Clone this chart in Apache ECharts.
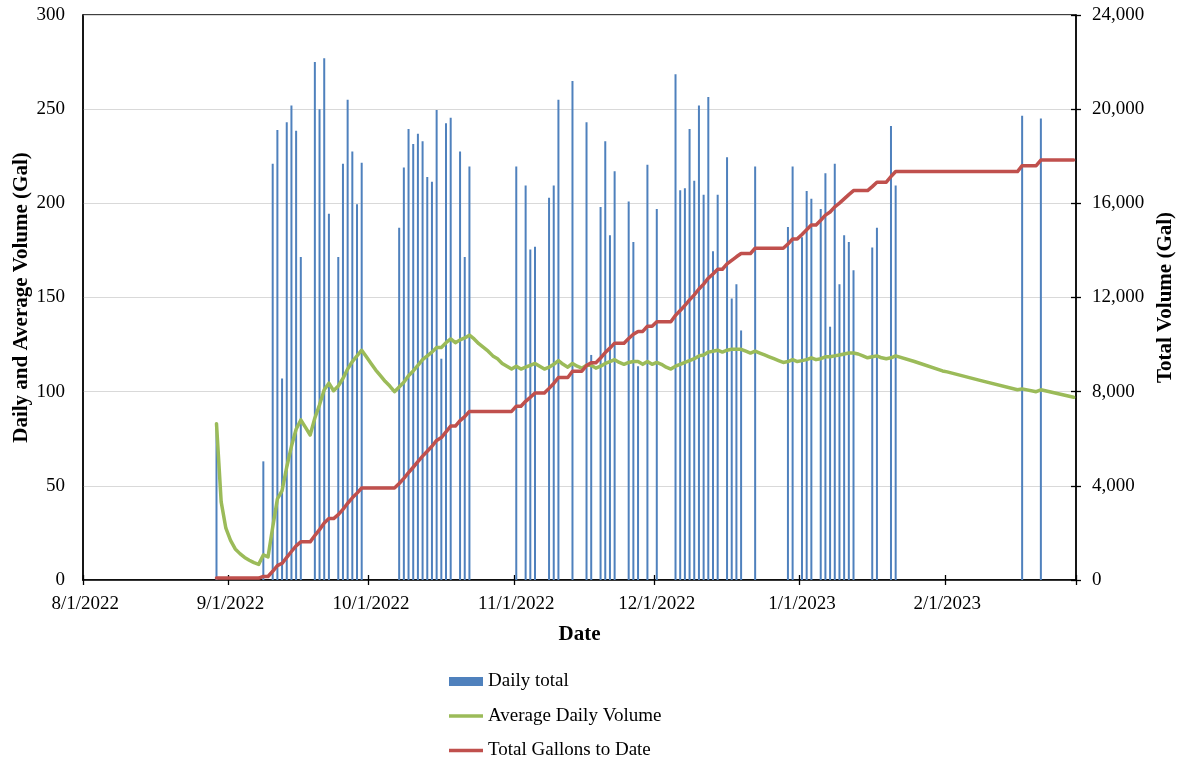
<!DOCTYPE html>
<html><head><meta charset="utf-8">
<script src="https://cdn.jsdelivr.net/npm/echarts@6/dist/echarts.min.js"></script>
<style>html,body{margin:0;padding:0;background:#fff}#c{width:1177px;height:757px}</style>
</head><body><div id="c"></div>
<script>
// Daily total bars
const barDates = ['8/29/2022','9/8/2022','9/10/2022','9/11/2022','9/12/2022','9/13/2022','9/14/2022','9/15/2022','9/16/2022','9/19/2022','9/20/2022','9/21/2022','9/22/2022','9/24/2022','9/25/2022','9/26/2022','9/27/2022','9/28/2022','9/29/2022',
'10/7/2022','10/8/2022','10/9/2022','10/10/2022','10/11/2022','10/12/2022','10/13/2022','10/14/2022','10/15/2022','10/16/2022','10/17/2022','10/18/2022','10/20/2022','10/21/2022','10/22/2022',
'11/1/2022','11/3/2022','11/4/2022','11/5/2022','11/8/2022','11/9/2022','11/10/2022','11/13/2022','11/16/2022','11/17/2022','11/19/2022','11/20/2022','11/21/2022','11/22/2022','11/25/2022','11/26/2022','11/27/2022','11/29/2022',
'12/1/2022','12/5/2022','12/6/2022','12/7/2022','12/8/2022','12/9/2022','12/10/2022','12/11/2022','12/12/2022','12/13/2022','12/14/2022','12/16/2022','12/17/2022','12/18/2022','12/19/2022','12/22/2022','12/29/2022','12/30/2022',
'1/1/2023','1/2/2023','1/3/2023','1/5/2023','1/6/2023','1/7/2023','1/8/2023','1/9/2023','1/10/2023','1/11/2023','1/12/2023','1/16/2023','1/17/2023','1/20/2023','1/21/2023','2/17/2023','2/21/2023'];
const barValues = [83,63,221,239,107,243,252,238.5,171.5,275,250,277,194.5,171.5,221,255,227.5,199.5,221.5,
187,219,239.5,231.5,237,233,214,211.5,249.5,117.5,242.5,245.5,227.5,171.5,219.5,
219.5,209.5,175.5,177,203,209.5,255,265,243,119.5,198,233,183,217,201,179.5,113.5,220.5,
197,268.5,207,208,239.5,212,252,204.5,256.5,174.5,204.5,224.5,149.5,157,132.5,219.5,187.5,219.5,
182,206.5,202.5,197,216,134.5,221,157,183,179.5,164.5,176.5,187,241,209.5,246.5,245];

// Average daily volume (line vertices)
const avgDates = ['8/29/2022','8/30/2022','8/31/2022','9/1/2022','9/2/2022','9/3/2022','9/4/2022','9/5/2022','9/6/2022','9/7/2022','9/8/2022','9/9/2022','9/10/2022','9/11/2022','9/12/2022','9/13/2022','9/14/2022','9/15/2022','9/16/2022','9/17/2022','9/18/2022','9/19/2022','9/20/2022','9/21/2022','9/22/2022','9/23/2022','9/24/2022','9/25/2022','9/26/2022','9/27/2022','9/28/2022','9/29/2022','9/30/2022',
'10/1/2022','10/2/2022','10/3/2022','10/4/2022','10/5/2022','10/6/2022','10/7/2022','10/8/2022','10/9/2022','10/10/2022','10/11/2022','10/12/2022','10/13/2022','10/14/2022','10/15/2022','10/16/2022','10/17/2022','10/18/2022','10/19/2022','10/20/2022','10/21/2022','10/22/2022','10/23/2022','10/24/2022','10/25/2022','10/26/2022','10/27/2022','10/28/2022','10/29/2022','10/30/2022','10/31/2022',
'11/1/2022','11/2/2022','11/3/2022','11/4/2022','11/5/2022','11/6/2022','11/7/2022','11/8/2022','11/9/2022','11/10/2022','11/11/2022','11/12/2022','11/13/2022','11/14/2022','11/15/2022','11/16/2022','11/17/2022','11/18/2022','11/19/2022','11/20/2022','11/21/2022','11/22/2022','11/23/2022','11/24/2022','11/25/2022','11/26/2022','11/27/2022','11/28/2022','11/29/2022','11/30/2022',
'12/1/2022','12/2/2022','12/3/2022','12/4/2022','12/5/2022','12/6/2022','12/7/2022','12/8/2022','12/9/2022','12/10/2022','12/11/2022','12/12/2022','12/13/2022','12/14/2022','12/15/2022','12/16/2022','12/17/2022','12/18/2022','12/19/2022','12/20/2022','12/21/2022','12/22/2022','12/23/2022','12/24/2022','12/25/2022','12/26/2022','12/27/2022','12/28/2022','12/29/2022','12/30/2022','12/31/2022',
'1/1/2023','1/2/2023','1/3/2023','1/4/2023','1/5/2023','1/6/2023','1/7/2023','1/8/2023','1/9/2023','1/10/2023','1/11/2023','1/12/2023','1/13/2023','1/14/2023','1/15/2023','1/16/2023','1/17/2023','1/18/2023','1/19/2023','1/20/2023','1/21/2023','1/25/2023','1/31/2023',
'2/1/2023','2/8/2023','2/16/2023','2/17/2023','2/20/2023','2/21/2023','2/28/2023'];
const avgValues = [83,41.5,27.5,21,16.5,14,12,10.5,9.2,8.3,13.3,12.2,28,43,47.5,60,71,80,85,81,77,86,93,101,104.5,100.5,103,107,112,116,119,122,118.5,
115,111.5,108.5,105.5,103,100,102.5,105,108.5,111,114,117,119,121,123.5,123.5,126,128,126,127.5,128.5,130,128,125.5,123.5,121.5,119,117.5,115,113.5,112,
113.5,112,113,114,115,113.5,112,113,114.5,116.5,114.5,113,115,113.5,112.5,114,114,112.5,113.5,115,116,117,115.5,114.5,115.5,116,116,114.5,116,114.5,
115.5,114.5,113,112,113.5,114.5,115.5,116.5,117.5,119,119.5,121,121.5,122,121,122,122.5,122.5,122.5,121.5,120.5,121.5,120.5,119.5,118.5,117.5,116.5,115.5,116,117,116,
116.5,117,118,117,117.5,118.5,118.5,119,119.5,120,120.5,120.5,120,119,118,118.5,119,118,117.5,118,119,116,111,
110.5,106,101,101.5,100,101,97];

// Total gallons to date (line vertices)
const totalDates = ['8/29/2022','9/7/2022','9/8/2022','9/9/2022','9/10/2022','9/11/2022','9/12/2022','9/13/2022','9/14/2022','9/15/2022','9/16/2022','9/18/2022','9/19/2022','9/20/2022','9/21/2022','9/22/2022','9/23/2022','9/24/2022','9/25/2022','9/26/2022','9/27/2022','9/28/2022','9/29/2022',
'10/6/2022','10/7/2022','10/8/2022','10/9/2022','10/10/2022','10/11/2022','10/12/2022','10/13/2022','10/14/2022','10/15/2022','10/16/2022','10/17/2022','10/18/2022','10/19/2022','10/20/2022','10/21/2022','10/22/2022','10/31/2022',
'11/1/2022','11/2/2022','11/3/2022','11/4/2022','11/5/2022','11/7/2022','11/8/2022','11/9/2022','11/10/2022','11/12/2022','11/13/2022','11/15/2022','11/16/2022','11/17/2022','11/18/2022','11/19/2022','11/20/2022','11/21/2022','11/22/2022','11/24/2022','11/25/2022','11/26/2022','11/27/2022','11/28/2022','11/29/2022','11/30/2022',
'12/1/2022','12/4/2022','12/5/2022','12/6/2022','12/7/2022','12/8/2022','12/9/2022','12/10/2022','12/11/2022','12/12/2022','12/13/2022','12/14/2022','12/15/2022','12/16/2022','12/17/2022','12/18/2022','12/19/2022','12/21/2022','12/22/2022','12/28/2022','12/29/2022','12/30/2022','12/31/2022',
'1/1/2023','1/2/2023','1/3/2023','1/4/2023','1/5/2023','1/6/2023','1/7/2023','1/8/2023','1/9/2023','1/10/2023','1/11/2023','1/12/2023','1/15/2023','1/16/2023','1/17/2023','1/19/2023','1/20/2023','1/21/2023',
'2/16/2023','2/17/2023','2/20/2023','2/21/2023','2/28/2023'];
const totalValues = [80,80,150,150,370,610,710,960,1210,1450,1620,1620,1890,2140,2420,2610,2610,2780,3000,3260,3490,3690,3910,
3910,4100,4320,4560,4790,5030,5260,5470,5680,5930,6050,6290,6540,6540,6770,6940,7160,7160,
7380,7380,7590,7760,7940,7940,8140,8350,8600,8600,8870,8870,9110,9230,9230,9430,9660,9850,10060,10060,10260,10440,10560,10560,10780,10780,
10970,10970,11240,11450,11660,11900,12110,12360,12570,12820,13000,13200,13200,13430,13580,13730,13870,13870,14090,14090,14270,14490,14490,
14680,14880,15080,15080,15280,15500,15630,15850,16010,16190,16370,16540,16540,16710,16900,16900,17140,17350,
17350,17600,17600,17840,17840];

// Axis ranges / ticks
const leftAxis = {min: 0, max: 300, interval: 50};
const rightAxis = {min: 0, max: 24000, interval: 4000};
const startDate = [2022, 7, 1];   // 8/1/2022
const endDate = [2023, 1, 28];    // 2/28/2023

const categories = [];
for (let d = new Date(startDate[0], startDate[1], startDate[2]); d <= new Date(endDate[0], endDate[1], endDate[2]); d.setDate(d.getDate() + 1)) {
  categories.push((d.getMonth() + 1) + '/' + d.getDate() + '/' + d.getFullYear());
}
const idx = {};
categories.forEach((c, i) => idx[c] = i);
const isMonthStart = (i) => categories[i] && categories[i].split('/')[1] === '1';

const FONT = '"Liberation Serif","Times New Roman",serif';
const chart = echarts.init(document.getElementById('c'), null, {renderer: 'canvas'});
const tickInterval = (i) => isMonthStart(i);
const legendText = {fontFamily: FONT, fontSize: 19, color: '#000', lineHeight: 14};
const legendBase = {orient: 'vertical', left: 449, padding: 0, itemWidth: 34, icon: 'rect', textStyle: legendText};

chart.setOption({
  animation: false,
  backgroundColor: '#fff',
  textStyle: {fontFamily: FONT},
  grid: {left: 83, top: 15, width: 993, height: 565, show: true, borderColor: '#000', borderWidth: 1.3,
    backgroundColor: 'transparent', containLabel: false, outerBoundsMode: 'none'},
  legend: [
    Object.assign({}, legendBase, {top: 672, itemHeight: 9, data: ['Daily total']}),
    Object.assign({}, legendBase, {top: 706.5, itemHeight: 3.5, data: ['Average Daily Volume']}),
    Object.assign({}, legendBase, {top: 741, itemHeight: 3.5, data: ['Total Gallons to Date']})
  ],
  xAxis: [{
    type: 'category', data: categories, boundaryGap: true,
    axisLine: {lineStyle: {color: '#000', width: 1.5}},
    axisTick: {show: true, interval: tickInterval, length: 5, lineStyle: {color: '#000', width: 1.3}},
    axisLabel: {interval: tickInterval, fontFamily: FONT, fontSize: 19, color: '#000', margin: 15},
    splitLine: {show: false},
    name: 'Date', nameLocation: 'middle', nameGap: 44,
    nameTextStyle: {fontFamily: FONT, fontSize: 21, fontWeight: 'bold', color: '#000'}
  }, {
    type: 'category', data: categories, boundaryGap: true, position: 'bottom',
    axisLine: {show: false},
    axisTick: {show: true, inside: true, interval: tickInterval, length: 5, lineStyle: {color: '#000', width: 1.3}},
    axisLabel: {show: false}, splitLine: {show: false}
  }],
  yAxis: [{
    type: 'value', position: 'left', min: leftAxis.min, max: leftAxis.max, interval: leftAxis.interval,
    axisLine: {show: true, lineStyle: {color: '#000', width: 1.5}},
    axisTick: {show: false},
    axisLabel: {fontFamily: FONT, fontSize: 19, color: '#000', margin: 18},
    splitLine: {show: true, lineStyle: {color: '#D9D9D9', width: 1.2}},
    name: 'Daily and Average Volume (Gal)', nameLocation: 'middle', nameGap: 51, nameRotate: 90, nameMoveOverlap: false,
    nameTextStyle: {fontFamily: FONT, fontSize: 21, fontWeight: 'bold', color: '#000'}
  }, {
    type: 'value', position: 'right', min: rightAxis.min, max: rightAxis.max, interval: rightAxis.interval,
    axisLine: {show: true, lineStyle: {color: '#000', width: 1.5}},
    axisTick: {show: true, length: 5, lineStyle: {color: '#000', width: 1.3}},
    axisLabel: {fontFamily: FONT, fontSize: 19, color: '#000', margin: 16,
      formatter: (v) => v.toLocaleString('en-US')},
    splitLine: {show: false},
    name: 'Total Volume (Gal)', nameLocation: 'middle', nameGap: 79, nameRotate: 90, nameMoveOverlap: false,
    nameTextStyle: {fontFamily: FONT, fontSize: 21, fontWeight: 'bold', color: '#000'}
  }, {
    type: 'value', position: 'right', min: rightAxis.min, max: rightAxis.max, interval: rightAxis.interval,
    axisLine: {show: false},
    axisTick: {show: true, inside: true, length: 5, lineStyle: {color: '#000', width: 1.3}},
    axisLabel: {show: false}, splitLine: {show: false}
  }],
  series: [{
    name: 'Daily total', type: 'bar', xAxisIndex: 0, yAxisIndex: 0, barWidth: 2,
    itemStyle: {color: '#4F81BD'},
    data: barDates.map((d, i) => [idx[d], barValues[i]])
  }, {
    name: 'Average Daily Volume', type: 'line', xAxisIndex: 0, yAxisIndex: 0,
    symbol: 'none', showSymbol: false,
    itemStyle: {color: '#9BBB59'},
    lineStyle: {color: '#9BBB59', width: 3.5, join: 'round', cap: 'round'},
    data: avgDates.map((d, i) => [idx[d], avgValues[i]])
  }, {
    name: 'Total Gallons to Date', type: 'line', xAxisIndex: 0, yAxisIndex: 1,
    symbol: 'none', showSymbol: false,
    itemStyle: {color: '#C0504D'},
    lineStyle: {color: '#C0504D', width: 3.5, join: 'round', cap: 'round'},
    data: totalDates.map((d, i) => [idx[d], totalValues[i]])
  }]
});
</script>
</body></html>
